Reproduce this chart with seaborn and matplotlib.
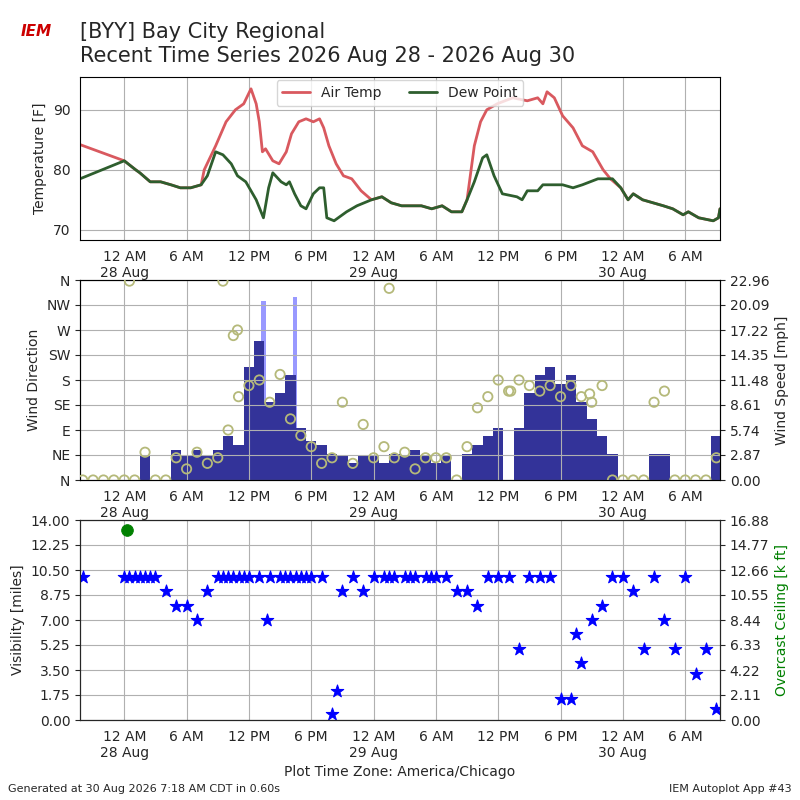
import numpy as np
import pandas as pd
import seaborn as sns
import matplotlib
matplotlib.use("Agg")
import matplotlib.pyplot as plt

sns.set_style("white")
plt.rcParams['font.family'] = ['DejaVu Sans']

# hours since 2026-08-28 00:00 CDT
dew_t = [-4.26, 0, 1.1, 1.5, 2.5, 3.5, 4.5, 5.4, 6.4, 7.4, 8.0, 8.8, 9.5, 10.3, 10.9, 11.7,
         12.7, 13.4, 13.9, 14.3, 15.1, 15.6, 15.9, 16.4, 17.0, 17.5, 18.2, 18.8, 19.2, 19.5,
         20.2, 21.4, 22.4, 23.8, 24.8, 25.7, 26.7, 28.6, 29.6, 30.6, 31.5, 32.5, 33.0, 33.7,
         34.5, 34.9, 35.6, 36.4, 37.8, 38.3, 38.8, 39.8, 40.3, 42.2, 43.2, 44.1, 45.6, 47.0,
         47.8, 48.5, 49.0, 49.9, 51.9, 52.8, 53.8, 54.3, 55.3, 56.7, 57.2, 57.35]
dew_v = [78.5, 81.5, 80, 79.5, 78, 78, 77.5, 77, 77, 77.5, 79, 83, 82.5, 81, 79, 78,
         75, 72, 77, 79.5, 78, 77.5, 78, 76, 74, 73.5, 76, 77, 77, 72,
         71.5, 73, 74, 75, 75.5, 74.5, 74, 74, 73.5, 74, 73, 73, 75, 78,
         82, 82.5, 79, 76, 75.5, 75, 76.5, 76.5, 77.5, 77.5, 77, 77.5, 78.5, 78.5,
         77, 75, 76, 75, 74, 73.5, 72.5, 73, 72, 71.5, 72, 73.5]

air_t = [-4.26, 0, 1.1, 1.5, 2.5, 3.5, 4.5, 5.4, 6.4, 7.4, 7.7, 8.8, 9.8, 10.7, 11.5, 12.2,
         12.7, 13.0, 13.3, 13.6, 14.3, 14.9, 15.6, 16.1, 16.8, 17.5, 18.2, 18.8, 19.2, 19.7,
         20.4, 21.1, 21.9, 22.8, 23.8, 24.8, 25.7, 26.7, 28.6, 29.6, 30.6, 31.5, 32.5, 33.0,
         33.7, 34.3, 34.9, 35.9, 37.4, 38.8, 39.8, 40.3, 40.7, 41.4, 42.2, 43.2, 44.1, 45.1,
         46.1, 46.8, 47.8, 48.5, 49.0, 49.9, 51.9, 52.8, 53.8, 54.3, 55.3, 56.7, 57.2, 57.35]
air_v = [84.2, 81.5, 80, 79.5, 78, 78, 77.5, 77, 77, 77.5, 80, 84, 88, 90, 91, 93.5,
         91, 88, 83, 83.5, 81.5, 81, 83, 86, 88, 88.5, 88, 88.5, 87, 84,
         81, 79, 78.5, 76.5, 75, 75.5, 74.5, 74, 74, 73.5, 74, 73, 73, 75,
         84, 88, 90, 91, 92, 91.5, 92, 91, 93, 92, 89, 87, 84, 83,
         80, 78.5, 77, 75, 76, 75, 74, 73.5, 72.5, 73, 72, 71.5, 72, 73.5]

hours = list(range(-4, 58))
speed = [0, 0, 0, 0, 0, 0, 2.87, 0, 0, 3.5, 2.87, 3.5, 2.87, 3.5, 5, 4, 13, 16, 9, 10, 12,
         6, 4.5, 4, 3, 2.87, 2, 2.87, 2.87, 2, 3, 2.87, 3.5, 2.87, 2, 2.87, 0, 3, 4, 5, 6,
         0, 6, 10, 12, 13, 11, 12, 9, 7, 5, 3, 0, 0, 0, 3, 3, 0, 0, 0, 0, 5]
wdir = [0, 0, 0, 0, 0, 0, 50, 0, 0, 40, 20, 50, 30, 40, 90, 150, 170, 180, 140, 190, 110,
        80, 60, 30, 40, 140, 30, 100, 40, 60, 40, 50, 20, 40, 40, 40, 0, 60, 130, 150, 180,
        160, 180, 170, 160, 170, 150, 170, 150, 140, 170, 0, 0, 0, 0, 140, 160, 0, 0, 0, 0, 40]
gust_t = [13.4, 16.4]
gust = [20.5, 21.0]
stray_t = [0.5, 9.5, 10.5, 10.9, 25.5, 37.2, 44.8]
stray_dir = [358, 358, 260, 270, 345, 160, 155]

vis = [10, np.nan, np.nan, np.nan, 10, 10, 10, 10, 9, 8, 8, 7, 9, 10, 10, 10, 10, 10, 10, 10,
       10, 10, 10, 10, 0.4, 9, 10, 9, 10, 10, 10, 10, 10, 10, 10, 10, 9, 9, 8, 10, 10, 10,
       5, 10, 10, 10, 1.5, 1.5, 4, 7, 8, 10, 10, 9, 5, 10, 7, 5, 10, 3.2, 5, 0.8]
vis_extra_t = [13.7, 20.5, 43.5, 0.5, 1.5, 2.5, 9.5, 10.5, 11.5, 15.5, 16.5, 17.5, 25.5, 27.5, 29.5]
vis_extra = [7, 2.0, 6, 10, 10, 10, 10, 10, 10, 10, 10, 10, 10, 10, 10]
ceil_t = [0.3]
ceil_v = [16.0]

tick_t = [0, 6, 12, 18, 24, 30, 36, 42, 48, 54]
tick_lbl = ["12 AM\n28 Aug", "6 AM", "12 PM", "6 PM", "12 AM\n29 Aug", "6 AM",
            "12 PM", "6 PM", "12 AM\n30 Aug", "6 AM"]
xmin, xmax = -4.26, 57.35

fig = plt.figure(figsize=(8, 8), dpi=100)
ax1 = fig.add_axes([0.1, 0.7, 0.8, 0.204])
ax2 = fig.add_axes([0.1, 0.4, 0.8, 0.25])
ax3 = fig.add_axes([0.1, 0.1, 0.8, 0.25])

sns.lineplot(x=air_t, y=air_v, ax=ax1, color="#d9595f", lw=2, label="Air Temp")
sns.lineplot(x=dew_t, y=dew_v, ax=ax1, color="#2e5e2e", lw=2, label="Dew Point")
ax1.set_ylim(68.3, 95.5)
ax1.set_yticks([70, 80, 90])
ax1.set_ylabel("Temperature [F]")
ax1.legend(loc="upper center", ncol=2, bbox_to_anchor=(0.5, 1.02))

ax2b = ax2.twinx()
ax2b.bar(gust_t, gust, width=0.4, color="#9999ff", linewidth=0)
ax2b.bar(hours, speed, width=1.0, color="#333399", align="center", linewidth=0)
ax2b.set_ylim(0, 22.96)
ax2b.set_yticks(np.linspace(0, 22.96, 9))
ax2b.set_yticklabels(["%.2f" % v for v in np.linspace(0, 22.96, 9)])
ax2b.set_ylabel("Wind Speed [mph]")
sns.scatterplot(x=hours + stray_t, y=wdir + stray_dir, ax=ax2, s=45, facecolor="none",
                edgecolor="#b5b97a", linewidth=1.3, zorder=5)
ax2.set_zorder(ax2b.get_zorder() + 1)
ax2.patch.set_visible(False)
ax2.set_ylim(0, 360)
ax2.set_yticks(range(0, 361, 45))
ax2.set_yticklabels(["N", "NE", "E", "SE", "S", "SW", "W", "NW", "N"])
ax2.set_ylabel("Wind Direction")

sns.scatterplot(x=hours + vis_extra_t, y=vis + vis_extra, ax=ax3, marker="*", s=90,
                color="blue", edgecolor="blue")
ax3.set_ylim(0, 14)
ax3.set_yticks(np.arange(0, 14.01, 1.75))
ax3.set_yticklabels(["%.2f" % v for v in np.arange(0, 14.01, 1.75)])
ax3.set_ylabel("Visibility [miles]")
ax3b = ax3.twinx()
sns.scatterplot(x=ceil_t, y=ceil_v, ax=ax3b, s=70, color="green", edgecolor="green")
ax3b.set_ylim(0, 16.88)
ax3b.set_yticks(np.linspace(0, 16.88, 9))
ax3b.set_yticklabels(["%.2f" % v for v in np.linspace(0, 16.88, 9)])
ax3b.set_ylabel("Overcast Ceiling [k ft]", color="green")
ax3.set_xlabel("Plot Time Zone: America/Chicago")

for ax in (ax1, ax2, ax3, ax2b, ax3b):
    ax.set_xlim(xmin, xmax)
for ax in (ax1, ax2, ax3):
    ax.set_xticks(tick_t)
    ax.set_xticklabels(tick_lbl)
    ax.grid(True, color="#b0b0b0", lw=0.8)
    ax.set_axisbelow(True)
    for s in ax.spines.values():
        s.set_color("black")

fig.text(0.1, 0.945, "[BYY] Bay City Regional\nRecent Time Series 2026 Aug 28 - 2026 Aug 30",
         fontsize=15, va="center")
fig.text(0.045, 0.955, "IEM", color="#cc0000", fontsize=11, style="italic",
         fontweight="bold", ha="center")
fig.text(0.01, 0.01, "Generated at 30 Aug 2026 7:18 AM CDT in 0.60s", fontsize=8)
fig.text(0.99, 0.01, "IEM Autoplot App #43", fontsize=8, ha="right")
fig.savefig("out.png")
